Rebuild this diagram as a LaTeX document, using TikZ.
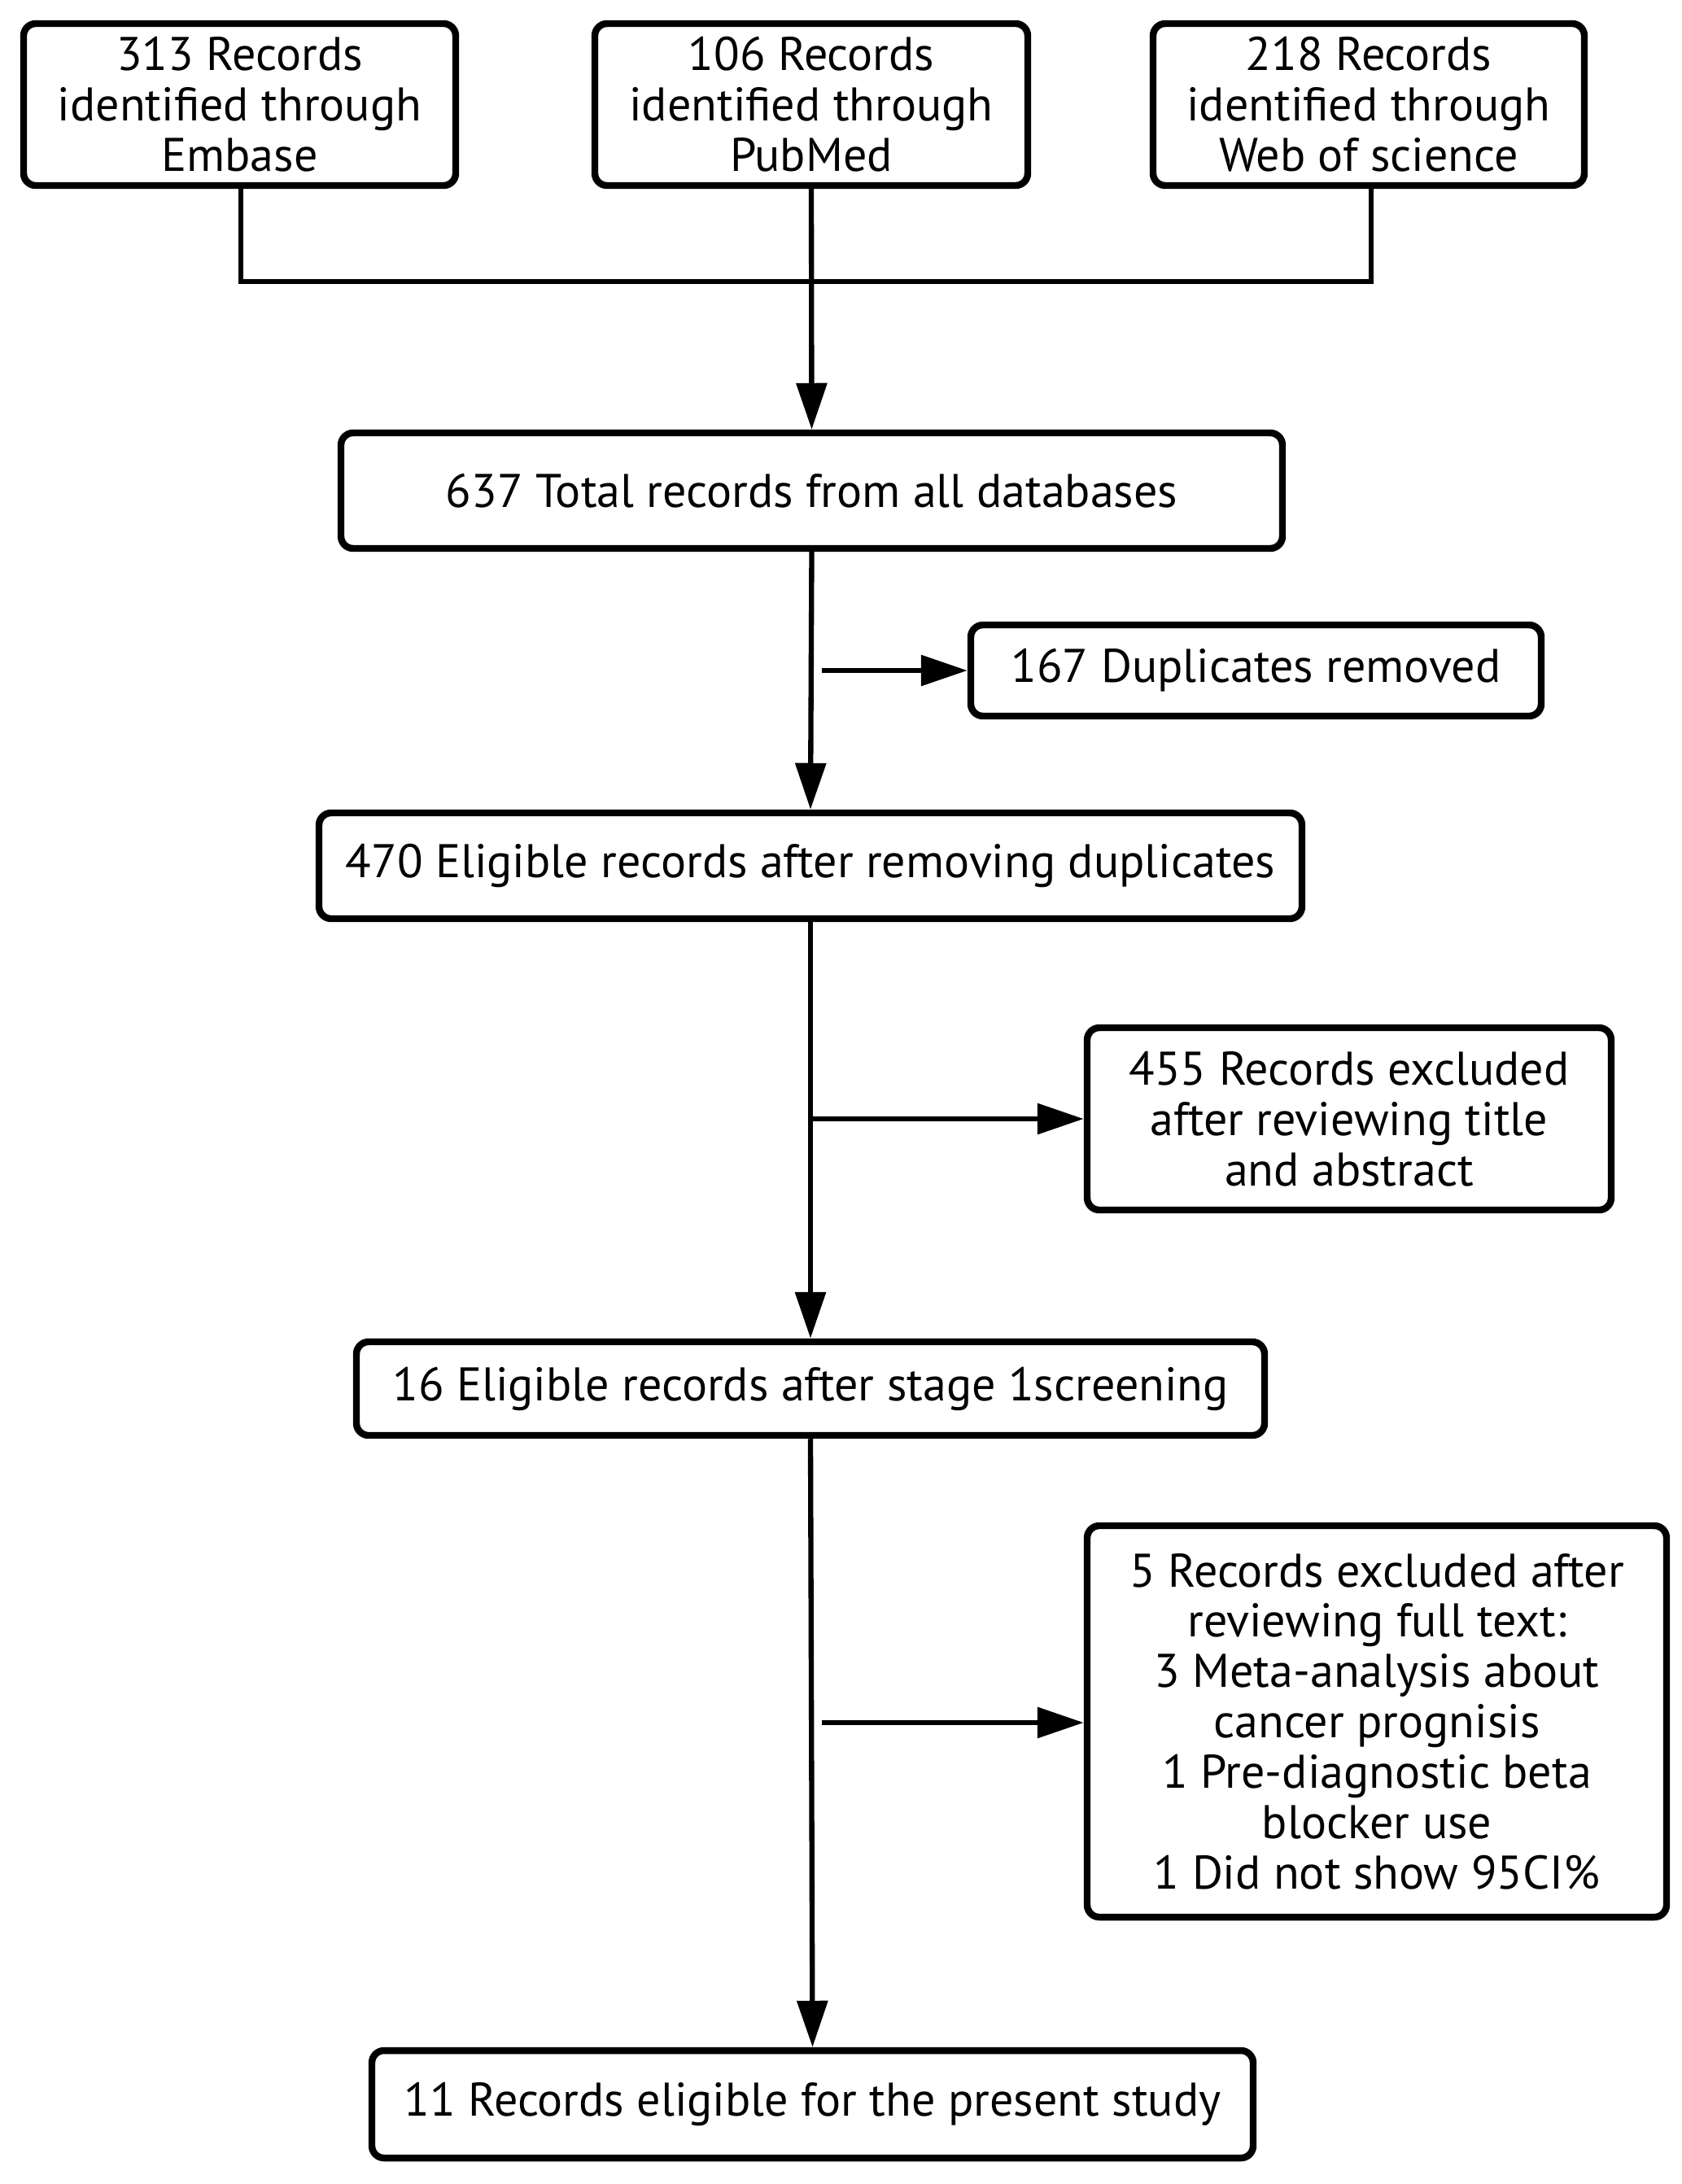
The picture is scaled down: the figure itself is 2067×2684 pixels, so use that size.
\documentclass[tikz,border=0pt]{standalone}
\usepackage{fontspec}
\setmainfont{PT Sans}
\usetikzlibrary{arrows.meta}
\begin{document}
\begin{tikzpicture}[x=0.01cm,y=-0.01cm,
  box/.style={draw,line width=2.4pt,rounded corners=0.15cm,align=center,inner sep=0pt,
    font=\fontsize{16.5pt}{17.6pt}\selectfont},
  conn/.style={line width=1.8pt},
  arr/.style={line width=1.8pt,-{Triangle[length=0.57cm,width=0.37cm]}}]
\useasboundingbox (0,0) rectangle (2067,2684);
\node[box,minimum width=531*0.01cm,minimum height=199*0.01cm] (emb) at (294.5,128.5) {313 Records\\identified through\\Embase};
\node[box,minimum width=532*0.01cm,minimum height=199*0.01cm] (pub) at (997,128.5) {106 Records\\identified through\\PubMed};
\node[box,minimum width=530*0.01cm,minimum height=199*0.01cm] (wos) at (1682,128.5) {218 Records\\identified through\\Web of science};
\node[box,minimum width=1157*0.01cm,minimum height=142*0.01cm] (tot) at (997.5,603) {637 Total records from all databases};
\node[box,minimum width=701*0.01cm,minimum height=112*0.01cm] (dup) at (1543.5,824) {167 Duplicates removed};
\node[box,minimum width=1208*0.01cm,minimum height=130*0.01cm] (elig) at (996,1064) {470 Eligible records after removing duplicates};
\node[box,minimum width=644*0.01cm,minimum height=224*0.01cm] (ex1) at (1658,1375) {455 Records excluded\\after reviewing title\\and abstract};
\node[box,minimum width=1116*0.01cm,minimum height=115*0.01cm] (st1) at (996,1706.5) {16 Eligible records after stage 1screening};
\node[box,minimum width=712*0.01cm,minimum height=481*0.01cm] (ex2) at (1692,2115.5) {5 Records excluded after\\reviewing full text:\\3 Meta-analysis about\\cancer prognisis\\1 Pre-diagnostic beta\\blocker use\\1 Did not show 95CI\%};
\node[box,minimum width=1083*0.01cm,minimum height=132*0.01cm] (fin) at (998.5,2586) {11 Records eligible for the present study};
% top merge
\coordinate (jl) at (296,346);
\coordinate (jr) at (1685,346);
\draw[conn] (emb.south -| jl) -- (jl) -- (jr) -- (wos.south -| jr);
\draw[arr] (pub.south) -- (tot.north);
\draw[arr] (tot.south) -- (elig.north);
\draw[arr] (elig.south) -- (st1.north);
\draw[arr] (st1.south) -- (fin.north);
% side arrows
\coordinate (s1) at (1010,824);
\coordinate (s2) at (998,1375);
\coordinate (s3) at (1010,2117);
\draw[arr] (s1) -- (dup.west |- s1);
\draw[arr] (s2) -- (ex1.west |- s2);
\draw[arr] (s3) -- (ex2.west |- s3);
\end{tikzpicture}
\end{document}
